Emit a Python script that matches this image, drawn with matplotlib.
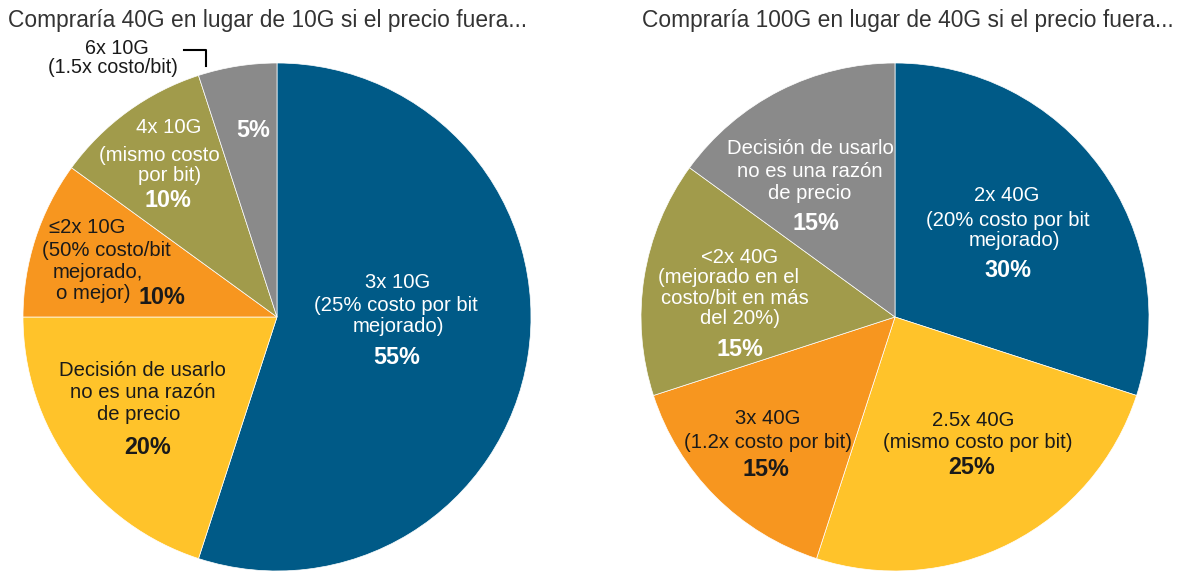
import matplotlib as mpl
mpl.use('Agg')
import matplotlib.pyplot as plt

plt.rcParams['font.family'] = ['Liberation Sans', 'DejaVu Sans']

W, H = 1179, 573
R = 254

# Survey shares, clockwise from 12 o'clock
left_title = "Compraría 40G en lugar de 10G si el precio fuera..."
left_values = [55, 20, 10, 10, 5]
right_title = "Compraría 100G en lugar de 40G si el precio fuera..."
right_values = [30, 25, 15, 15, 15]

colors = ['#005A87', '#FFC32A', '#F7961F', '#A19B4B', '#8A8A8A']
DARK = '#1a1a1a'
LBL = 14.6
PCT = 16.8


def make_axes(fig, cx, cy):
    # square axes holding a unit pie centred at pixel (cx, cy), y measured from top
    ax = fig.add_axes([(cx - R) / W, (H - cy - R) / H, 2 * R / W, 2 * R / H])
    ax.axis('off')
    return ax


def draw_pie(ax, values):
    ax.pie(values, colors=colors, startangle=90, counterclock=False, radius=1,
           wedgeprops=dict(edgecolor='white', linewidth=0.5))
    # pie() resets the limits, so pin them afterwards
    ax.set_xlim(-1, 1)
    ax.set_ylim(-1, 1)
    ax.set_aspect('auto')


def px(c, x, y):
    cx, cy = c
    return (x - cx) / R, (cy - y) / R


def put(ax, c, x, y, s, color, size=LBL, bold=False):
    dx, dy = px(c, x, y)
    ax.text(dx, dy, s, ha='center', va='center', color=color, fontsize=size,
            fontweight='bold' if bold else 'normal', clip_on=False)


fig = plt.figure(figsize=(W / 100, H / 100), dpi=100)

# left pie
lc = (277, 317)
axl = make_axes(fig, *lc)
draw_pie(axl, left_values)

put(axl, lc, 398, 283, "3x 10G", 'white')
put(axl, lc, 396, 305, "(25% costo por bit", 'white')
put(axl, lc, 398, 327, "mejorado)", 'white')
put(axl, lc, 397, 358, f"{left_values[0]}%", 'white', PCT, True)

put(axl, lc, 142, 371, "Decisión de usarlo", DARK)
put(axl, lc, 143, 393, "no es una razón", DARK)
put(axl, lc, 139, 415, "de precio", DARK)
put(axl, lc, 148, 448, f"{left_values[1]}%", DARK, PCT, True)

put(axl, lc, 87, 227, "≤2x 10G", DARK)
put(axl, lc, 106, 250, "(50% costo/bit", DARK)
put(axl, lc, 98, 272, "mejorado,", DARK)
put(axl, lc, 93, 293, "o mejor)", DARK)
put(axl, lc, 162, 298, f"{left_values[2]}%", DARK, PCT, True)

put(axl, lc, 169, 127, "4x 10G", 'white')
put(axl, lc, 159, 155, "(mismo costo", 'white')
put(axl, lc, 170, 175, "por bit)", 'white')
put(axl, lc, 168, 200, f"{left_values[3]}%", 'white', PCT, True)

put(axl, lc, 253, 130, f"{left_values[4]}%", 'white', PCT, True)

put(axl, lc, 117, 48, "6x 10G", DARK, 14.2)
put(axl, lc, 113, 67, "(1.5x costo/bit)", DARK, 14.2)
bx, by = zip(px(lc, 184, 50), px(lc, 206, 50), px(lc, 206, 66))
axl.plot(bx, by, color='black', lw=1.5, clip_on=False)

# right pie
rc = (895, 317)
axr = make_axes(fig, *rc)
draw_pie(axr, right_values)

put(axr, rc, 1007, 195, "2x 40G", 'white')
put(axr, rc, 1008, 220, "(20% costo por bit", 'white')
put(axr, rc, 1014, 241, "mejorado)", 'white')
put(axr, rc, 1008, 270, f"{right_values[0]}%", 'white', PCT, True)

put(axr, rc, 973, 420, "2.5x 40G", DARK)
put(axr, rc, 978, 443, "(mismo costo por bit)", DARK)
put(axr, rc, 972, 468, f"{right_values[1]}%", DARK, PCT, True)

put(axr, rc, 768, 418, "3x 40G", DARK)
put(axr, rc, 768, 443, "(1.2x costo por bit)", DARK)
put(axr, rc, 766, 470, f"{right_values[2]}%", DARK, PCT, True)

put(axr, rc, 740, 257, "<2x 40G", 'white')
put(axr, rc, 728, 277, "(mejorado en el", 'white')
put(axr, rc, 735, 298, "costo/bit en más", 'white')
put(axr, rc, 740, 319, "del 20%)", 'white')
put(axr, rc, 740, 350, f"{right_values[3]}%", 'white', PCT, True)

put(axr, rc, 810, 148, "Decisión de usarlo", 'white')
put(axr, rc, 810, 171, "no es una razón", 'white')
put(axr, rc, 810, 193, "de precio", 'white')
put(axr, rc, 816, 223, f"{right_values[4]}%", 'white', PCT, True)

fig.text(8 / W, 1 - 20 / H, left_title, ha='left', va='center', fontsize=16.4, color='#333333')
fig.text(642 / W, 1 - 20 / H, right_title, ha='left', va='center', fontsize=16.4, color='#333333')

fig.savefig('out.png', dpi=100)
